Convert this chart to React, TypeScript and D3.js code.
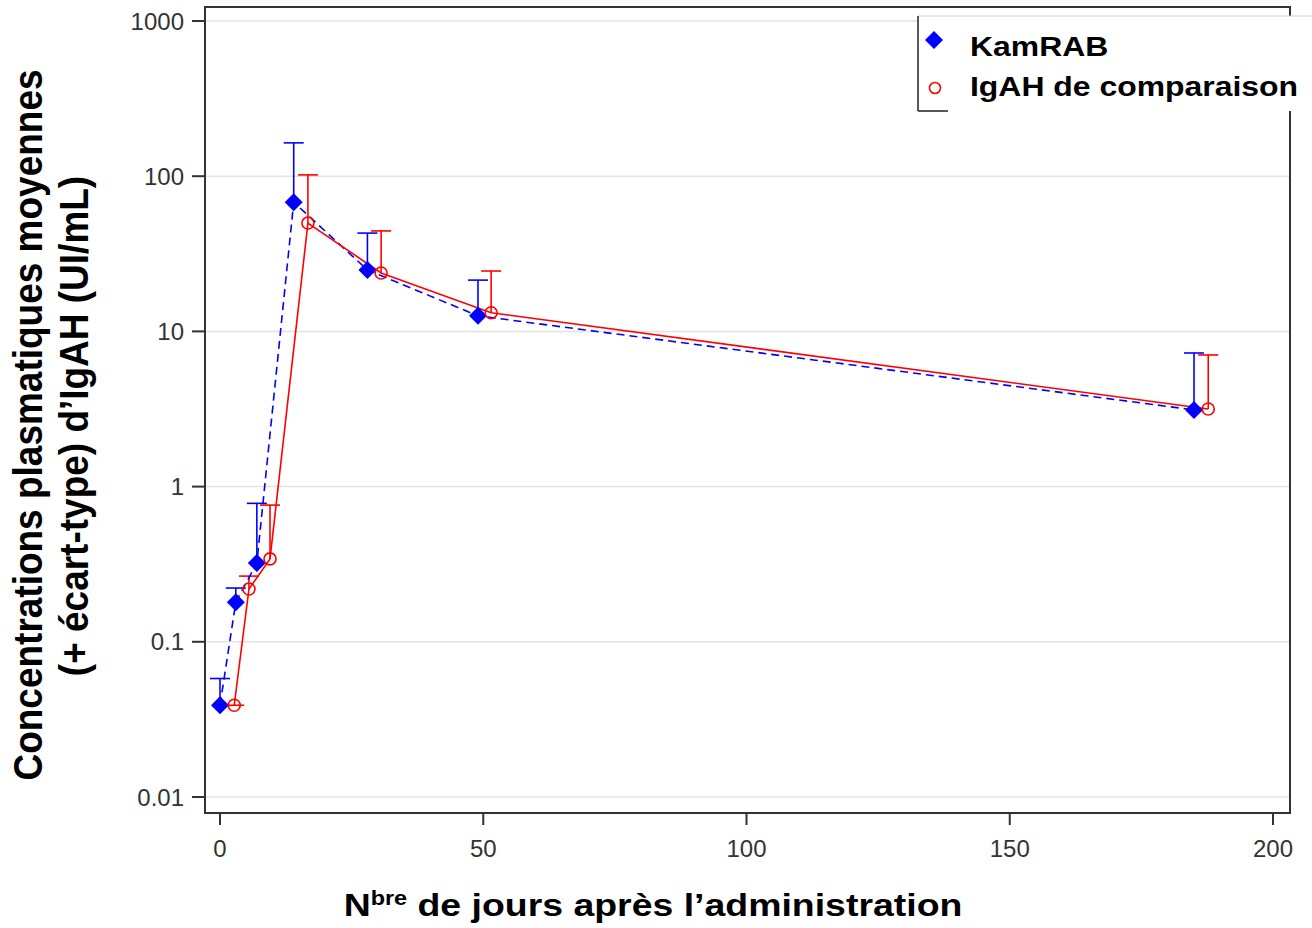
import React from 'react';
import * as d3 from 'd3';

// KamRAB (blue diamonds, dashed line)
const kamDays = [0, 3, 7, 14, 28, 49, 185];
const kamMean = [0.039, 0.18, 0.322, 68, 24.9, 12.6, 3.12];
const kamUpper = [0.058, 0.222, 0.78, 164, 43, 21.4, 7.26];

// IgAH de comparaison (red open circles, solid line)
const cmpDays = [2.7, 5.5, 9.5, 16.7, 30.6, 51.5, 187.7];
const cmpMean = [0.039, 0.219, 0.342, 49.9, 23.8, 13.2, 3.16];
const cmpUpper = [0.039, 0.265, 0.76, 102, 44.4, 24.5, 7.05];

const xTicks = [0, 50, 100, 150, 200];
const yTicks = [0.01, 0.1, 1, 10, 100, 1000];
const yTickLabels = ['0.01', '0.1', '1', '10', '100', '1000'];

const W = 1312;
const H = 928;
const frame = { left: 205, right: 1290, top: 7, bottom: 813 };
const font = "Arial, 'Liberation Sans', Helvetica, sans-serif";

const App = () => {
  const x = d3.scaleLinear().domain([0, 200]).range([220, 1273]);
  const y = d3.scaleLog().domain([0.01, 1000]).range([797, 21]);

  const kam = kamDays.map((d, i) => ({ d, m: kamMean[i], u: kamUpper[i] }));
  const cmp = cmpDays.map((d, i) => ({ d, m: cmpMean[i], u: cmpUpper[i] }));

  const line = d3.line<{ d: number; m: number }>()
    .x(p => x(p.d))
    .y(p => y(p.m));

  const blue = '#0000ff';
  const red = '#ff0000';
  const cap = 10;

  const diamond = (cx: number, cy: number, r: number) =>
    `M${cx},${cy - r}L${cx + r},${cy}L${cx},${cy + r}L${cx - r},${cy}Z`;

  return (
    <div style={{ position: 'absolute', left: 0, top: 0 }}>
      <svg width={W} height={H} style={{ display: 'block', background: '#fff' }}>
        {/* grid */}
        {yTicks.map(t => (
          <line key={'g' + t} x1={frame.left} x2={frame.right} y1={y(t)} y2={y(t)}
            stroke="#e3e3e3" strokeWidth={1.5} />
        ))}

        {/* frame */}
        <rect x={frame.left} y={frame.top} width={frame.right - frame.left}
          height={frame.bottom - frame.top} fill="none" stroke="#333" strokeWidth={2} />

        {/* y axis ticks */}
        {yTicks.map((t, i) => (
          <g key={'y' + t}>
            <line x1={frame.left - 13} x2={frame.left} y1={y(t)} y2={y(t)} stroke="#333" strokeWidth={2} />
            <text x={184} y={y(t)} dy="0.36em" textAnchor="end"
              fontFamily={font} fontSize={24} fill="#333">{yTickLabels[i]}</text>
          </g>
        ))}

        {/* x axis ticks */}
        {xTicks.map(t => (
          <g key={'x' + t}>
            <line x1={x(t)} x2={x(t)} y1={frame.bottom} y2={frame.bottom + 12} stroke="#333" strokeWidth={2} />
            <text x={x(t)} y={857} textAnchor="middle"
              fontFamily={font} fontSize={24} fill="#333">{t}</text>
          </g>
        ))}

        {/* error bars */}
        {kam.map((p, i) => (
          <g key={'ek' + i} stroke={blue} strokeWidth={1.6}>
            <line x1={x(p.d)} x2={x(p.d)} y1={y(p.m)} y2={y(p.u)} />
            <line x1={x(p.d) - cap} x2={x(p.d) + cap} y1={y(p.u)} y2={y(p.u)} />
          </g>
        ))}
        {cmp.map((p, i) => (
          <g key={'ec' + i} stroke={red} strokeWidth={1.6}>
            <line x1={x(p.d)} x2={x(p.d)} y1={y(p.m)} y2={y(p.u)} />
            <line x1={x(p.d) - cap} x2={x(p.d) + cap} y1={y(p.u)} y2={y(p.u)} />
          </g>
        ))}

        {/* lines */}
        <path d={line(kam) || ''} fill="none" stroke={blue} strokeWidth={1.6} strokeDasharray="8,5" />
        <path d={line(cmp) || ''} fill="none" stroke={red} strokeWidth={1.6} />

        {/* markers */}
        {kam.map((p, i) => (
          <path key={'mk' + i} d={diamond(x(p.d), y(p.m), 9)} fill={blue} />
        ))}
        {cmp.map((p, i) => (
          <circle key={'mc' + i} cx={x(p.d)} cy={y(p.m)} r={6} fill="none" stroke={red} strokeWidth={1.6} />
        ))}

        {/* legend */}
        <rect x={918} y={16} width={W - 918 + 5} height={95} fill="#fff" />
        <line x1={918} x2={W} y1={16} y2={16} stroke="#ccc" strokeWidth={1} />
        <line x1={918} x2={918} y1={16} y2={111} stroke="#222" strokeWidth={1.5} />
        <line x1={918} x2={948} y1={111} y2={111} stroke="#222" strokeWidth={1.5} />
        <path d={diamond(934, 40, 9)} fill={blue} />
        <circle cx={935} cy={88} r={5.5} fill="none" stroke={red} strokeWidth={1.6} />
        <g fontFamily={font} fontSize={28} fontWeight="bold" fill="#000">
          <text transform="translate(970,56) scale(1.14,1)">KamRAB</text>
          <text transform="translate(970,96) scale(1.14,1)">IgAH de comparaison</text>
        </g>

        {/* y axis title */}
        <g fontFamily={font} fontSize={37} fontWeight="bold" fill="#000">
          <text transform="translate(42,425) scale(1.12,1) rotate(-90)" textAnchor="middle">
            Concentrations plasmatiques moyennes
          </text>
          <text transform="translate(88,426) scale(1.12,1) rotate(-90)" textAnchor="middle">
            (+ écart-type) d’IgAH (UI/mL)
          </text>
        </g>

        {/* x axis title */}
        <text transform="translate(653,916) scale(1.17,1)" textAnchor="middle"
          fontFamily={font} fontSize={32} fontWeight="bold" fill="#000">
          N<tspan fontSize={20} dy={-11}>bre</tspan><tspan dy={11}> de jours après l’administration</tspan>
        </text>
      </svg>
    </div>
  );
};

export default App;
